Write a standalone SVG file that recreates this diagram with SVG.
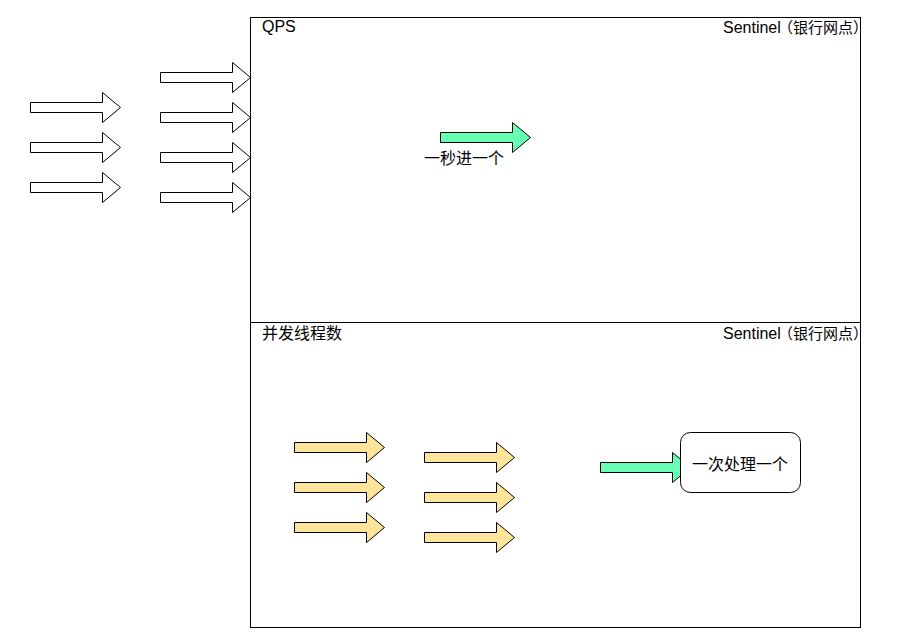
<svg xmlns="http://www.w3.org/2000/svg" xmlns:xlink="http://www.w3.org/1999/xlink" width="902" height="635" viewBox="0 0 902 635">
<style>
.box{fill:#ffffff;stroke:#000000;stroke-width:1}
.arr{stroke:#000000;stroke-width:1;stroke-linejoin:miter}
.w{fill:#ffffff}
.g{fill:#66FFB3}
.y{fill:#FFE599}
.t{font-family:"Liberation Sans","Noto Sans CJK SC",sans-serif;fill:#000000}
.t16{font-size:16px}
.t15{font-size:15px}
</style>
<defs>
<path id="arrow" d="M0.5,10.5 H72.5 V0.5 L90.5,15.5 L72.5,30.5 V20.5 H0.5 Z"/>
</defs>
<rect width="902" height="635" fill="#ffffff"/>
<g id="qps-panel">
<rect class="box" x="250.5" y="17.5" width="610" height="305"/>
<text class="t t16" x="262" y="32">QPS</text>
<text class="t t16" x="723" y="33">Sentinel<tspan class="t15" x="778">（银行网点）</tspan></text>
</g>
<g id="thread-panel">
<rect class="box" x="250.5" y="322.5" width="610" height="305"/>
<text class="t t16" x="262" y="339">并发线程数</text>
<text class="t t16" x="723" y="339">Sentinel<tspan class="t15" x="778">（银行网点）</tspan></text>
</g>
<g id="in-arrow-1"><use href="#arrow" class="arr w" x="30" y="92"/></g>
<g id="in-arrow-2"><use href="#arrow" class="arr w" x="30" y="132"/></g>
<g id="in-arrow-3"><use href="#arrow" class="arr w" x="30" y="172"/></g>
<g id="req-arrow-1"><use href="#arrow" class="arr w" x="160" y="62"/></g>
<g id="req-arrow-2"><use href="#arrow" class="arr w" x="160" y="102"/></g>
<g id="req-arrow-3"><use href="#arrow" class="arr w" x="160" y="142"/></g>
<g id="req-arrow-4"><use href="#arrow" class="arr w" x="160" y="182"/></g>
<g id="qps-pass">
<use href="#arrow" class="arr g" x="440" y="122"/>
<text class="t t16" x="464" y="164" text-anchor="middle">一秒进一个</text>
</g>
<g id="thread-arrow-1"><use href="#arrow" class="arr y" x="294" y="432"/></g>
<g id="thread-arrow-2"><use href="#arrow" class="arr y" x="294" y="472"/></g>
<g id="thread-arrow-3"><use href="#arrow" class="arr y" x="294" y="512"/></g>
<g id="thread-arrow-4"><use href="#arrow" class="arr y" x="424" y="442"/></g>
<g id="thread-arrow-5"><use href="#arrow" class="arr y" x="424" y="482"/></g>
<g id="thread-arrow-6"><use href="#arrow" class="arr y" x="424" y="522"/></g>
<g id="thread-pass"><use href="#arrow" class="arr g" x="600" y="452"/></g>
<g id="process-box">
<rect class="box" x="680.5" y="432.5" width="120" height="60" rx="10" ry="10"/>
<text class="t t16" x="740" y="470" text-anchor="middle">一次处理一个</text>
</g>
<g id="connectors"></g>
</svg>
